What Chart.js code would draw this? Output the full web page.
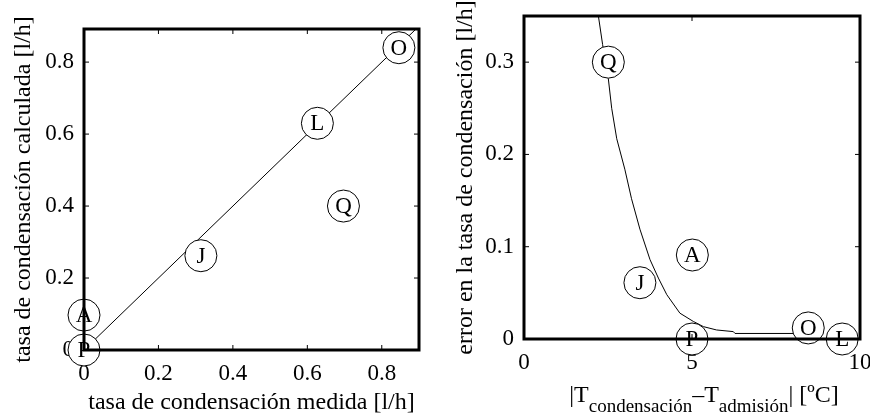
<!doctype html>
<html>
<head>
<meta charset="utf-8">
<title>Tasa de condensación</title>
<script src="https://cdn.jsdelivr.net/npm/chart.js@4.4.1/dist/chart.umd.min.js"></script>
<style>
body { margin: 0; background: #fff; overflow: hidden; }
canvas { position: absolute; top: 0; }
#left { left: 0; }
#right { left: 440px; }
</style>
</head>
<body>
<canvas id="left" width="440" height="419"></canvas>
<canvas id="right" width="430" height="419"></canvas>
<script>
// izquierda: medida frente a calculada
var leftNames = ['A', 'P', 'J', 'L', 'Q', 'O'];
var leftMeasured = [0, 0, 0.314, 0.627, 0.697, 0.846];
var leftCalculated = [0.097, 0, 0.262, 0.63, 0.40, 0.84];
var diagonal = [0, 0.9];
var leftTicks = [0, 0.2, 0.4, 0.6, 0.8];

// derecha: error frente a |Tc - Ta|
var rightNames = ['Q', 'J', 'A', 'P', 'O', 'L'];
var rightDeltaT = [2.51, 3.45, 5.01, 5.0, 8.46, 9.47];
var rightError = [0.3, 0.061, 0.091, 0, 0.012, 0];
var curveDeltaT = [2.21, 2.34, 2.51, 2.61, 2.76, 3.0, 3.2, 3.45, 3.75, 4.0, 4.25, 4.64, 5.04, 5.34, 5.73, 6.23, 6.28, 8.46];
var curveError = [0.351, 0.319, 0.282, 0.25, 0.217, 0.184, 0.152, 0.119, 0.086, 0.066, 0.048, 0.028, 0.019, 0.0134, 0.0098, 0.008, 0.006, 0.006];
var rightXTicks = [0, 5, 10];
var rightYTicks = [0, 0.1, 0.2, 0.3];

var serif = '"Liberation Serif", "Times New Roman", serif';

function toPoints(xs, ys) {
    return xs.map(function (x, i) { return {x: x, y: ys[i]}; });
}

// letras en los circulos, marco grueso y marcas hacia dentro
var framePlugin = {
    id: 'frame',
    afterDatasetsDraw: function (chart) {
        var ctx = chart.ctx;
        ctx.save();
        ctx.fillStyle = '#000';
        ctx.font = '23px ' + serif;
        ctx.textAlign = 'center';
        ctx.textBaseline = 'middle';
        chart.data.datasets.forEach(function (ds, i) {
            if (!ds.names) return;
            chart.getDatasetMeta(i).data.forEach(function (pt, j) {
                ctx.fillText(ds.names[j], pt.x, pt.y + 1);
            });
        });
        ctx.restore();
    },
    afterDraw: function (chart) {
        var ctx = chart.ctx, a = chart.chartArea;
        var xs = chart.scales.x, ys = chart.scales.y;
        ctx.save();
        ctx.strokeStyle = '#000';
        ctx.lineWidth = 1;
        ctx.beginPath();
        xs.ticks.forEach(function (t) {
            var px = xs.getPixelForValue(t.value);
            ctx.moveTo(px, a.bottom); ctx.lineTo(px, a.bottom - 5);
            ctx.moveTo(px, a.top); ctx.lineTo(px, a.top + 5);
        });
        ys.ticks.forEach(function (t) {
            var py = ys.getPixelForValue(t.value);
            ctx.moveTo(a.left, py); ctx.lineTo(a.left + 5, py);
            ctx.moveTo(a.right, py); ctx.lineTo(a.right - 5, py);
        });
        ctx.stroke();
        ctx.lineWidth = 3;
        ctx.strokeRect(a.left, a.top, a.right - a.left, a.bottom - a.top);
        ctx.restore();

        var sub = chart.options.plugins.frame && chart.options.plugins.frame.subTitle;
        if (!sub) return;
        // titulo con subindices
        var parts = [
            ['|T', 24, 0], ['condensación', 19, 10], ['\u2013T', 24, 0],
            ['admisión', 19, 10], ['| [\u00baC]', 24, 0]
        ];
        var total = 0;
        parts.forEach(function (p) {
            ctx.font = p[1] + 'px ' + serif;
            p.push(ctx.measureText(p[0]).width);
            total += p[3];
        });
        var x = (a.left + a.right) / 2 + 12 - total / 2;
        ctx.save();
        ctx.fillStyle = '#000';
        ctx.textBaseline = 'alphabetic';
        parts.forEach(function (p) {
            ctx.font = p[1] + 'px ' + serif;
            ctx.fillText(p[0], x, 402 + p[2]);
            x += p[3];
        });
        ctx.restore();
    }
};

function axis(min, max, tickList, title, size, titlePad) {
    return {
        type: 'linear',
        min: min,
        max: max,
        z: 1,
        grid: {display: false, drawTicks: false},
        border: {display: false},
        afterBuildTicks: function (s) {
            s.ticks = tickList.map(function (v) { return {value: v}; });
        },
        afterFit: function (s) {
            if (s.isHorizontal()) s.height = size; else s.width = size;
            s.paddingTop = 0;
            s.paddingBottom = 0;
            s.paddingLeft = 0;
            s.paddingRight = 0;
        },
        ticks: {
            color: '#000',
            padding: 10,
            includeBounds: false,
            font: {family: serif, size: 23}
        },
        title: {
            display: title !== '',
            text: title,
            color: '#000',
            padding: titlePad,
            font: {family: serif, size: 24}
        }
    };
}

function pointSet(names, xs, ys) {
    return {
        names: names,
        data: toPoints(xs, ys),
        order: 0,
        clip: false,
        pointRadius: 16,
        pointHoverRadius: 16,
        pointBackgroundColor: '#fff',
        pointBorderColor: '#000',
        pointBorderWidth: 1,
        showLine: false
    };
}

function lineSet(xs, ys) {
    return {
        data: toPoints(xs, ys),
        order: 1,
        showLine: true,
        borderColor: '#000',
        borderWidth: 1,
        pointRadius: 0,
        tension: 0
    };
}

var baseOptions = function (pad) {
    return {
        responsive: false,
        animation: false,
        devicePixelRatio: 1,
        layout: {padding: pad, autoPadding: false},
        plugins: {legend: {display: false}, tooltip: {enabled: false}}
    };
};

var leftOptions = baseOptions({top: 29, right: 21, left: 0, bottom: 0});
leftOptions.scales = {
    x: axis(0, 0.9, leftTicks, 'tasa de condensación medida [l/h]', 69, {top: 0, bottom: 2}),
    y: axis(0, 0.892, leftTicks, 'tasa de condensación calculada [l/h]', 84, {top: 9, bottom: 0})
};

new Chart(document.getElementById('left'), {
    type: 'scatter',
    data: {datasets: [pointSet(leftNames, leftMeasured, leftCalculated), lineSet(diagonal, diagonal)]},
    options: leftOptions,
    plugins: [framePlugin]
});

var rightOptions = baseOptions({top: 16, right: 10, left: 0, bottom: 0});
rightOptions.plugins.frame = {subTitle: true};
rightOptions.scales = {
    x: axis(0, 10, rightXTicks, '', 80, {top: 0, bottom: 0}),
    y: axis(0, 0.35, rightYTicks, 'error en la tasa de condensación [l/h]', 84, {top: 11, bottom: 0})
};

new Chart(document.getElementById('right'), {
    type: 'scatter',
    data: {datasets: [pointSet(rightNames, rightDeltaT, rightError), lineSet(curveDeltaT, curveError)]},
    options: rightOptions,
    plugins: [framePlugin]
});
</script>
</body>
</html>
